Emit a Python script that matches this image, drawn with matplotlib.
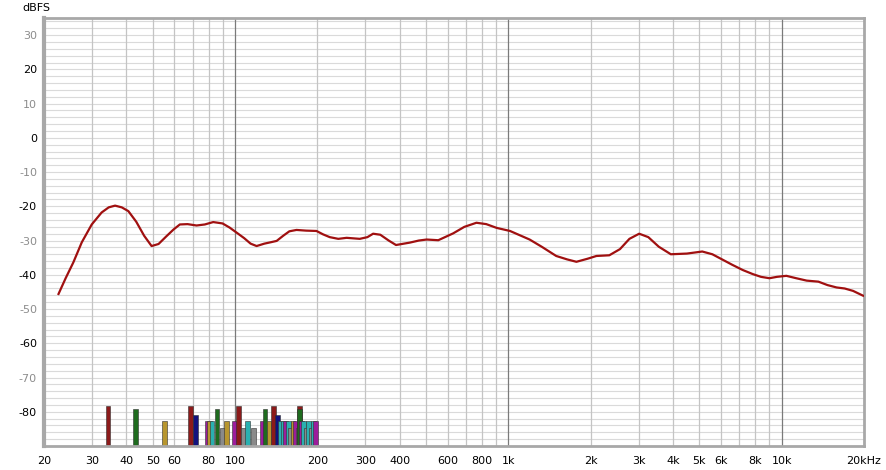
import matplotlib
matplotlib.use('Agg')
import matplotlib.pyplot as plt
from matplotlib.ticker import FixedLocator, NullFormatter
import numpy as np

# response curve (Hz, dBFS)
freq = [22.6, 24.0, 25.6, 27.5, 29.9, 32.5, 34.5, 36.4, 38.5, 40.7, 43.5, 46.5,
        49.5, 52.5, 56.0, 59.5, 62.8, 67.0, 72.3, 77.5, 83.2, 90.0, 95.5, 101.4,
        108.0, 114.0, 119.9, 128.0, 135.0, 142.0, 150.0, 158.0, 167.8, 182.0,
        198.6, 210.0, 222.0, 238.6, 256.0, 286.0, 305.0, 320.0, 340.0, 365.0,
        388.0, 436.0, 470.0, 502.0, 554.0, 628.0, 690.0, 764.0, 830.0, 906.0,
        1014.0, 1196.0, 1330.0, 1496.0, 1640.0, 1774.0, 1950.0, 2100.0, 2340.0,
        2560.0, 2772.0, 3010.0, 3250.0, 3550.0, 3930.0, 4500.0, 5120.0, 5574.0,
        6050.0, 6600.0, 7200.0, 7840.0, 8400.0, 9020.0, 9600.0, 10400.0, 11300.0,
        12340.0, 13620.0, 14700.0, 15880.0, 17000.0, 18240.0, 19840.0]
level = [-45.6, -41.0, -36.4, -30.5, -25.3, -21.8, -20.3, -19.8, -20.3, -21.4, -24.5, -28.6,
         -31.6, -31.0, -28.8, -26.8, -25.3, -25.2, -25.6, -25.3, -24.6, -25.0, -26.2, -27.7,
         -29.3, -30.9, -31.6, -30.9, -30.5, -30.1, -28.6, -27.3, -26.9, -27.1,
         -27.2, -28.2, -29.0, -29.5, -29.2, -29.5, -29.0, -28.0, -28.3, -30.0,
         -31.3, -30.6, -30.0, -29.7, -29.9, -27.9, -26.0, -24.8, -25.2, -26.3,
         -27.2, -29.7, -31.9, -34.5, -35.5, -36.2, -35.3, -34.5, -34.3,
         -32.5, -29.5, -28.0, -29.0, -31.8, -34.0, -33.8, -33.2, -34.0,
         -35.5, -37.1, -38.6, -39.8, -40.6, -41.0, -40.6, -40.3, -41.0,
         -41.7, -42.0, -43.0, -43.7, -44.0, -44.7, -46.1]

# room mode markers: frequency, top level, colour
mode_freq = [34.3, 43.2, 55.1, 68.8, 71.6, 78.9, 80.8, 82.3, 85.8, 90.0, 92.9,
             99.3, 102.8, 107.6, 111.2, 116.5, 125.4, 128.6, 133.0, 137.9, 142.9,
             146.0, 150.0, 153.0, 157.0, 160.0, 163.0, 166.0, 170.0, 172.0, 172.5,
             175.0, 178.0, 182.0, 186.0, 190.0, 193.0, 197.0]
mode_top = [-78.2, -79.1, -82.7, -78.2, -80.9, -82.7, -82.7, -82.7, -79.1, -84.7, -82.7,
            -82.7, -78.3, -84.7, -82.7, -84.7, -82.7, -79.1, -82.7, -78.3, -80.9,
            -82.7, -82.7, -82.7, -82.7, -84.7, -82.7, -82.7, -84.7, -78.3, -79.3,
            -82.7, -82.7, -84.7, -82.7, -84.7, -82.7, -82.7]
mode_col = ['red', 'green', 'olive', 'red', 'navy', 'magenta', 'olive', 'teal', 'green', 'gray', 'olive',
            'magenta', 'red', 'gray', 'teal', 'gray', 'magenta', 'green', 'olive', 'red', 'navy',
            'teal', 'teal', 'magenta', 'teal', 'gray', 'olive', 'magenta', 'gray', 'red', 'green',
            'magenta', 'teal', 'gray', 'teal', 'gray', 'teal', 'magenta']
palette = {'red': '#8c1a1a', 'green': '#1e6b1e', 'olive': '#b8962e', 'navy': '#12127e',
           'magenta': '#9c1c9c', 'teal': '#2ab0b0', 'gray': '#8a8a8a'}

xticks = [20, 30, 40, 50, 60, 80, 100, 200, 300, 400, 600, 800, 1000, 2000, 3000,
          4000, 5000, 6000, 8000, 10000, 20000]
xlabels = ['20', '30', '40', '50', '60', '80', '100', '200', '300', '400', '600', '800',
           '1k', '2k', '3k', '4k', '5k', '6k', '8k', '10k', '20kHz']

plt.rcParams['font.family'] = ['DejaVu Sans']
plt.rcParams['font.size'] = 8

fig = plt.figure(figsize=(8.86, 4.70), dpi=100)
ax = fig.add_axes([44/886., 24/470., 820/886., 428/470.])
ax.set_xscale('log')
ax.set_xlim(20, 20000)
ax.set_ylim(-90, 35)

# grid
for v in range(-88, 35, 2):
    ax.axhline(v, color='#dadada', lw=0.8, zorder=0)
minor_x = [m * d for d in (10, 100, 1000, 10000) for m in range(2, 10) if 20 < m * d < 20000]
for f in minor_x:
    ax.axvline(f, color='#c4c4c4', lw=0.9, zorder=0.2)
for f in (100, 1000, 10000):
    ax.axvline(f, color='#7a7a7a', lw=0.9, zorder=0.4)

# mode bars
for f, t, c in zip(mode_freq, mode_top, mode_col):
    ax.bar(f / 1.02, t + 90, width=f * 0.0404, bottom=-90, align='edge',
           color=palette[c], edgecolor='#303030', linewidth=0.4, zorder=2)

ax.plot(freq, level, color='#a01010', lw=1.6, zorder=3)

ax.xaxis.set_major_locator(FixedLocator(xticks))
ax.xaxis.set_minor_locator(FixedLocator([]))
ax.xaxis.set_minor_formatter(NullFormatter())
ax.set_xticks(xticks)
ax.set_xticklabels(xlabels)
yt = list(range(-80, 31, 10))
ax.set_yticks(yt)
ax.set_yticklabels([str(v) for v in yt])
for lab, v in zip(ax.get_yticklabels(), yt):
    lab.set_color('black' if v % 20 == 0 else '#8c8c8c')
ax.tick_params(axis='both', length=0)
ax.tick_params(axis='x', pad=7)
ax.tick_params(axis='y', pad=5)

for s in ax.spines.values():
    s.set_color('#a8a8a8')
    s.set_linewidth(2.0)
ax.spines['left'].set_linewidth(3.0)

fig.text(22/886., 1 - 8/470., 'dBFS', ha='left', va='center', fontsize=8)

plt.savefig('out.png', dpi=100)
